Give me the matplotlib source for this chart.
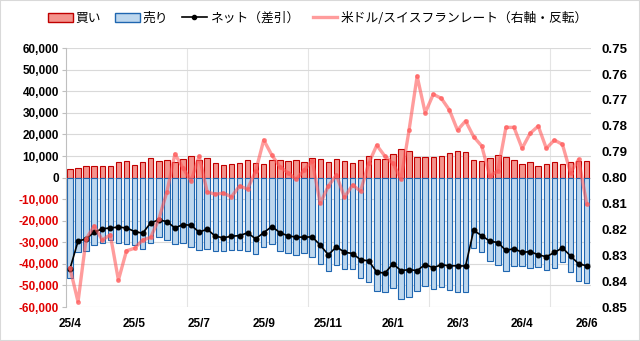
import numpy as np
import matplotlib.pyplot as plt
from matplotlib.patches import Patch, Rectangle
from matplotlib.lines import Line2D
from matplotlib.ticker import MultipleLocator, FuncFormatter

plt.rcParams['font.family'] = ['Noto Sans CJK JP', 'DejaVu Sans']

# 週次データ（チャートから読み取り）
tick_labels = ['25/4', '25/5', '25/7', '25/9', '25/11', '26/1', '26/3', '26/4', '26/6']

buy = [4000, 4600, 5500, 5500, 5500, 5500, 7300, 7900, 6000, 7300,
       9300, 7900, 8300, 7300, 8600, 10200, 8300, 9300, 6900, 6000,
       6500, 6900, 8200, 6900, 6300, 8200, 8200, 7700, 8200, 7300,
       9300, 8600, 7300, 8600, 7700, 6900, 8200, 9900, 8600, 8600,
       11000, 13100, 12500, 9700, 9700, 9700, 10200, 11400, 12300, 12000,
       8200, 7700, 9100, 10500, 9600, 8200, 6300, 7300, 5400, 6300,
       7300, 6300, 7300, 7900, 7700]

sell = [-46500, -34500, -33900, -31300, -30500, -28900, -30400, -31000, -31300, -33200,
        -30300, -27600, -28900, -30800, -30500, -32200, -33800, -33200, -34200, -34100,
        -33800, -33800, -34000, -35400, -32000, -31000, -33900, -34900, -36000, -35000,
        -36900, -40200, -43200, -40700, -42500, -42200, -46600, -48600, -52500, -53000,
        -51100, -56400, -55300, -52800, -50100, -51600, -50700, -52300, -53200, -53000,
        -32800, -34600, -38700, -40700, -43400, -41200, -41000, -41700, -41300, -43000,
        -42000, -39000, -43600, -47900, -48800]

net = [-42300, -29500, -28400, -25300, -23800, -23300, -23000, -23300, -25000, -25800,
       -21000, -19600, -20400, -23300, -21800, -22100, -25300, -23900, -27200, -27900,
       -27200, -26900, -25600, -28400, -25500, -22700, -25500, -27000, -27600, -27600,
       -27500, -31300, -35800, -32100, -34600, -35200, -38100, -38600, -43800, -44300,
       -40000, -43100, -42700, -43100, -40300, -41800, -40400, -40900, -40900, -41000,
       -24500, -26900, -29500, -30100, -33800, -32900, -34700, -34300, -35800, -36700,
       -34700, -32600, -36300, -40000, -40900]

usdchf = [0.8349, 0.8480, 0.8237, 0.8187, 0.8241, 0.8221, 0.8396, 0.8283, 0.8273, 0.8241,
          0.8231, 0.8161, 0.8056, 0.7909, 0.7963, 0.8013, 0.7917, 0.8056, 0.8064, 0.8060,
          0.8074, 0.8033, 0.8044, 0.7975, 0.7855, 0.7913, 0.7958, 0.7981, 0.8007, 0.7971,
          0.7935, 0.8100, 0.8033, 0.7990, 0.8076, 0.8029, 0.8052, 0.7945, 0.7875, 0.7917,
          0.7945, 0.8006, 0.7817, 0.7608, 0.7750, 0.7678, 0.7694, 0.7739, 0.7817, 0.7781,
          0.7842, 0.7878, 0.7994, 0.7974, 0.7806, 0.7806, 0.7887, 0.7829, 0.7801, 0.7887,
          0.7855, 0.7872, 0.7981, 0.7930, 0.8102]

x = np.arange(len(buy))

fig = plt.figure(figsize=(6.4, 3.41), dpi=100)
ax = fig.add_axes([0.103, 0.0997, 0.82, 0.759])

ax.bar(x, buy, width=0.68, color='#f4948d', edgecolor='#c00000', linewidth=0.8, zorder=2)
ax.bar(x, sell, width=0.68, color='#bdd7ee', edgecolor='#1f66b0', linewidth=0.8, zorder=2)
ax.plot(x, net, color='black', lw=1.2, marker='o', ms=3.3, zorder=4)

ax.set_xlim(-0.5, len(x) - 0.5)
ax.set_ylim(-60000, 60000)
ax.yaxis.set_major_locator(MultipleLocator(10000))
ax.yaxis.set_major_formatter(FuncFormatter(lambda v, p: f'{int(v):,}'))
ax.grid(axis='y', color='#d9d9d9', lw=0.8, zorder=0)
for b in [14.5, 29.5, 44.5, 59.5]:
    ax.axvline(b, color='#e4e4e4', lw=0.8, zorder=0)

ax.set_xticks(x[::8])
ax.set_xticklabels(tick_labels)
ax.tick_params(axis='x', length=0, pad=8)
ax.tick_params(axis='y', length=3, color='#bfbfbf', pad=2)
for s in ['top', 'right', 'bottom']:
    ax.spines[s].set_visible(False)
ax.spines['left'].set_color('#bfbfbf')

for lab in ax.get_xticklabels() + ax.get_yticklabels():
    lab.set_fontweight('bold')
    lab.set_fontsize(8.5)
    lab.set_family(['Liberation Sans', 'DejaVu Sans'])
for lab, v in zip(ax.get_yticklabels(), ax.get_yticks()):
    if v < 0:
        lab.set_color('#e00000')

ax2 = ax.twinx()
ax2.plot(x, usdchf, color='#ff5a5a', alpha=0.6, lw=2.4, marker='o', ms=2.6, zorder=5)
ax2.set_ylim(0.85, 0.75)
ax2.yaxis.set_major_locator(MultipleLocator(0.01))
ax2.yaxis.set_major_formatter(FuncFormatter(lambda v, p: f'{v:.2f}'))
ax2.tick_params(axis='y', length=0, pad=8)
for s in ['top', 'right', 'bottom', 'left']:
    ax2.spines[s].set_visible(False)
for lab in ax2.get_yticklabels():
    lab.set_fontweight('bold')
    lab.set_fontsize(9.5)
    lab.set_family(['Liberation Sans', 'DejaVu Sans'])

handles = [
    Patch(facecolor='#f4948d', edgecolor='#c00000', label='買い'),
    Patch(facecolor='#bdd7ee', edgecolor='#1f66b0', label='売り'),
    Line2D([], [], color='black', lw=1.2, marker='o', ms=3, label='ネット（差引）'),
    Line2D([], [], color='#ff5a5a', alpha=0.6, lw=2.4, label='米ドル/スイスフランレート（右軸・反転）'),
]
fig.legend(handles=handles, loc='upper center', bbox_to_anchor=(0.497, 1.0), ncol=4,
           frameon=False, fontsize=9.2, handlelength=1.9, handletextpad=0.25,
           columnspacing=1.1)

fig.patches.append(Rectangle((0, 0), 1, 1, transform=fig.transFigure, fill=False,
                             edgecolor='#d9d9d9', lw=1.5))

fig.savefig('out.png', dpi=100)
